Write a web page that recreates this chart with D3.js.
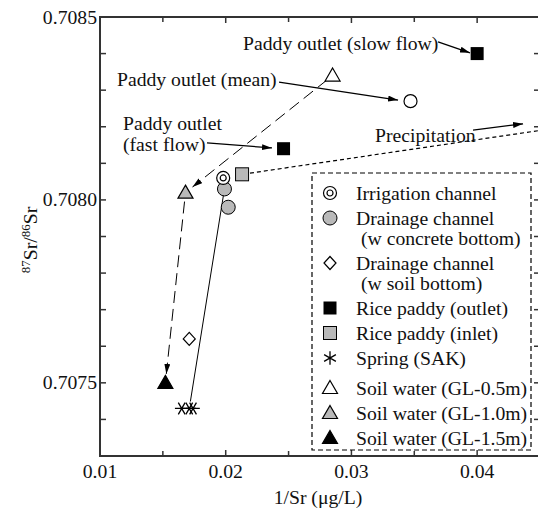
<!DOCTYPE html>
<meta charset="utf-8">
<style>
body { margin: 0; background: #fff; }
text { font-family: "Liberation Serif", "Times New Roman", serif; font-size: 19.7px; fill: #111; }
.axis line, .axis path { stroke: #333; }
</style>
<body>
<script src="https://d3js.org/d3.v7.min.js"></script>
<script>
// values (x = 1/Sr, y = 87Sr/86Sr)
var irrigation    = [[0.0198, 0.70806]];
var drainConcrete = [[0.0199, 0.70803], [0.0202, 0.70798]];
var drainSoil     = [[0.0171, 0.70762]];
var paddyOutlet   = [[0.0400, 0.70840], [0.0246, 0.70814]];
var paddyMean     = [[0.0347, 0.70827]];
var paddyInlet    = [[0.0213, 0.70807]];
var spring        = [[0.0165, 0.70743], [0.0171, 0.70743], [0.0174, 0.70743]];
var soil05        = [[0.0285, 0.70834]];
var soil10        = [[0.0168, 0.70802]];
var soil15        = [[0.0152, 0.70750]];
var precipEnd     = [0.0450, 0.70819];

var xTicks = [0.01, 0.02, 0.03, 0.04];
var xMinor = [0.015, 0.025, 0.035, 0.045];
var yTicks = [0.7075, 0.7080, 0.7085];
var yMinor = [0.7073, 0.7074, 0.7076, 0.7077, 0.7078, 0.7079, 0.7081, 0.7082, 0.7083, 0.7084];

var legendRows = [
  {label: "Irrigation channel", sym: "dcircle"},
  {label: "Drainage channel", sym: "gcircle"},
  {label: "(w concrete bottom)", sym: null},
  {label: "Drainage channel", sym: "diamond"},
  {label: "(w soil bottom)", sym: null},
  {label: "Rice paddy (outlet)", sym: "bsquare"},
  {label: "Rice paddy (inlet)", sym: "gsquare"},
  {label: "Spring (SAK)", sym: "asterisk"},
  {label: "Soil water (GL-0.5m)", sym: "wtri"},
  {label: "Soil water (GL-1.0m)", sym: "gtri"},
  {label: "Soil water (GL-1.5m)", sym: "btri"}
];

// annotation texts and arrows in data units
var notes = [
  {lines: ["Paddy outlet (slow flow)"], at: [0.02138, 0.70841], from: [0.03689, 0.708432], to: [0.03943, 0.708402]},
  {lines: ["Paddy outlet (mean)"], at: [0.01135, 0.708311], from: [0.02424, 0.708322], to: [0.03371, 0.708273]},
  {lines: ["Paddy outlet", "(fast flow)"], at: [0.01183, 0.708191], from: [0.01851, 0.708156], to: [0.02368, 0.708142]},
  {lines: ["Precipitation"], at: [0.03188, 0.708158], from: [0.03967, 0.708191], to: [0.04365, 0.708208]}
];

var width = 538, height = 511;
var svg = d3.select("body").append("svg")
    .attr("width", width)
    .attr("height", height);

var x = d3.scaleLinear().domain([0.01, 0.045]).range([100, 540]);
var y = d3.scaleLinear().domain([0.7073, 0.7085]).range([456, 17]);
var grey = "#b9b9b9";

svg.append("defs").append("marker")
    .attr("id", "arrow")
    .attr("viewBox", "0 0 10 6")
    .attr("refX", 10).attr("refY", 3)
    .attr("markerWidth", 10).attr("markerHeight", 6)
    .attr("markerUnits", "userSpaceOnUse")
    .attr("orient", "auto")
  .append("path")
    .attr("d", "M0,0L10,3L0,6Z")
    .attr("fill", "#000");

svg.append("clipPath").attr("id", "clip")
  .append("rect").attr("x", 100).attr("y", 17).attr("width", 440).attr("height", 439);

// frame and ticks
var frame = svg.append("g").attr("class", "axis");
frame.append("rect")
    .attr("x", 100).attr("y", 17).attr("width", 440).attr("height", 439)
    .attr("fill", "none").attr("stroke", "#333").attr("stroke-width", 2);

function tickLines(vals, len) {
  vals.forEach(function(v) {
    if (v > 0.01 && v < 0.045) {
      frame.append("line").attr("x1", x(v)).attr("x2", x(v)).attr("y1", 456).attr("y2", 456 - len).attr("stroke-width", 1.5);
      frame.append("line").attr("x1", x(v)).attr("x2", x(v)).attr("y1", 17).attr("y2", 17 + len).attr("stroke-width", 1.5);
    }
  });
}
tickLines(xTicks, 6);
tickLines(xMinor, 5);
yTicks.concat(yMinor).forEach(function(v) {
  if (v > 0.70731 && v < 0.70849) {
    frame.append("line").attr("x1", 100).attr("x2", 106).attr("y1", y(v)).attr("y2", y(v)).attr("stroke-width", 1.5);
    frame.append("line").attr("x1", 540).attr("x2", 534).attr("y1", y(v)).attr("y2", y(v)).attr("stroke-width", 1.5);
  }
});

svg.selectAll(".xlab").data(xTicks).enter().append("text")
    .attr("x", function(d) { return x(d); })
    .attr("y", 478)
    .attr("text-anchor", "middle")
    .text(function(d) { return d3.format(".2f")(d); });

svg.selectAll(".ylab").data(yTicks).enter().append("text")
    .attr("x", 97)
    .attr("y", function(d) { return y(d) + 6.5; })
    .attr("text-anchor", "end")
    .text(function(d) { return d3.format(".4f")(d); });

svg.append("text")
    .attr("x", 318).attr("y", 504)
    .attr("text-anchor", "middle")
    .text("1/Sr (\u03bcg/L)");

var yl = svg.append("text")
    .attr("transform", "translate(37,240) rotate(-90)")
    .attr("text-anchor", "middle");
yl.append("tspan").attr("font-size", "13px").attr("dy", "-7").text("87");
yl.append("tspan").attr("dy", "7").text("Sr/");
yl.append("tspan").attr("font-size", "13px").attr("dy", "-7").text("86");
yl.append("tspan").attr("dy", "7").text("Sr");

// connecting lines
var plot = svg.append("g").attr("clip-path", "url(#clip)");

function seg(a, b, cut0, cut1) {
  var x0 = x(a[0]), y0 = y(a[1]), x1 = x(b[0]), y1 = y(b[1]);
  var L = Math.hypot(x1 - x0, y1 - y0), ux = (x1 - x0) / L, uy = (y1 - y0) / L;
  return [x0 + ux * cut0, y0 + uy * cut0, x1 - ux * cut1, y1 - uy * cut1];
}
function drawSeg(s, dash, arrow, w) {
  var l = plot.append("line")
      .attr("x1", s[0]).attr("y1", s[1]).attr("x2", s[2]).attr("y2", s[3])
      .attr("stroke", "#000").attr("stroke-width", w || 1);
  if (dash) l.attr("stroke-dasharray", dash);
  if (arrow) l.attr("marker-end", "url(#arrow)");
}

drawSeg(seg(soil05[0], soil10[0], 7, 9), "12,6", true);
drawSeg(seg(soil10[0], soil15[0], 9, 9), "12,6", true);
drawSeg(seg(spring[1], drainConcrete[0], 7, 0), null, false);
drawSeg(seg(paddyInlet[0], precipEnd, 8, 0), "4,3", false, 1.2);

// annotations
notes.forEach(function(n) {
  n.lines.forEach(function(t, i) {
    svg.append("text")
        .attr("x", x(n.at[0]))
        .attr("y", y(n.at[1]) + i * 21)
        .text(t);
  });
  svg.append("line")
      .attr("x1", x(n.from[0])).attr("y1", y(n.from[1]))
      .attr("x2", x(n.to[0])).attr("y2", y(n.to[1]))
      .attr("stroke", "#000").attr("stroke-width", 1.3)
      .attr("marker-end", "url(#arrow)");
});

// markers
function drawSym(g, type, cx, cy) {
  var s = g.append("g").attr("transform", "translate(" + cx + "," + cy + ")");
  if (type == "dcircle") {
    s.append("circle").attr("r", 6.5).attr("fill", "#fff").attr("stroke", "#000").attr("stroke-width", 1.2);
    s.append("circle").attr("r", 3).attr("fill", "#fff").attr("stroke", "#000").attr("stroke-width", 1.2);
  } else if (type == "gcircle") {
    s.append("circle").attr("r", 7).attr("fill", grey).attr("stroke", "#000").attr("stroke-width", 1);
  } else if (type == "wcircle") {
    s.append("circle").attr("r", 6.5).attr("fill", "#fff").attr("stroke", "#000").attr("stroke-width", 1.2);
  } else if (type == "diamond") {
    s.append("path").attr("d", "M0,-6.5L6,0L0,6.5L-6,0Z").attr("fill", "#fff").attr("stroke", "#000").attr("stroke-width", 1.2);
  } else if (type == "bsquare") {
    s.append("rect").attr("x", -6.5).attr("y", -6.5).attr("width", 13).attr("height", 13).attr("fill", "#000");
  } else if (type == "gsquare") {
    s.append("rect").attr("x", -6.5).attr("y", -6.5).attr("width", 13).attr("height", 13).attr("fill", grey).attr("stroke", "#000").attr("stroke-width", 1);
  } else if (type == "asterisk" || type == "asteriskH") {
    s.append("path").attr("d", d3.symbol(d3.symbolAsterisk, 130)())
        .attr("transform", type == "asteriskH" ? "rotate(90)" : null)
        .attr("fill", "none").attr("stroke", "#000").attr("stroke-width", 1.3);
  } else {
    var f = type == "wtri" ? "#fff" : (type == "gtri" ? grey : "#000");
    s.append("path").attr("d", "M0,-7.5L7.5,5.5L-7.5,5.5Z").attr("fill", f).attr("stroke", "#000").attr("stroke-width", 1.2);
  }
}

function plotSet(data, type) {
  data.forEach(function(d) { drawSym(svg, type, x(d[0]), y(d[1])); });
}
plotSet(drainConcrete, "gcircle");
plotSet(irrigation, "dcircle");
plotSet(drainSoil, "diamond");
plotSet(paddyOutlet, "bsquare");
plotSet(paddyMean, "wcircle");
plotSet(paddyInlet, "gsquare");
plotSet(spring, "asteriskH");
plotSet(soil05, "wtri");
plotSet(soil10, "gtri");
plotSet(soil15, "btri");

// legend
var leg = svg.append("g");
leg.append("rect")
    .attr("x", 312).attr("y", 173).attr("width", 219).attr("height", 277)
    .attr("fill", "#fff").attr("stroke", "#000").attr("stroke-width", 1.2)
    .attr("stroke-dasharray", "5,3");
var ry = 193;
legendRows.forEach(function(r, i) {
  if (i > 0) {
    if (r.sym == null) ry += 20;
    else if (r.sym == "wtri") ry += 30;
    else ry += 25;
  }
  if (r.sym) drawSym(leg, r.sym, 330, ry);
  leg.append("text")
      .attr("x", r.sym ? 356 : 361)
      .attr("y", ry + 6.5)
      .text(r.label);
});
</script>
</body>
